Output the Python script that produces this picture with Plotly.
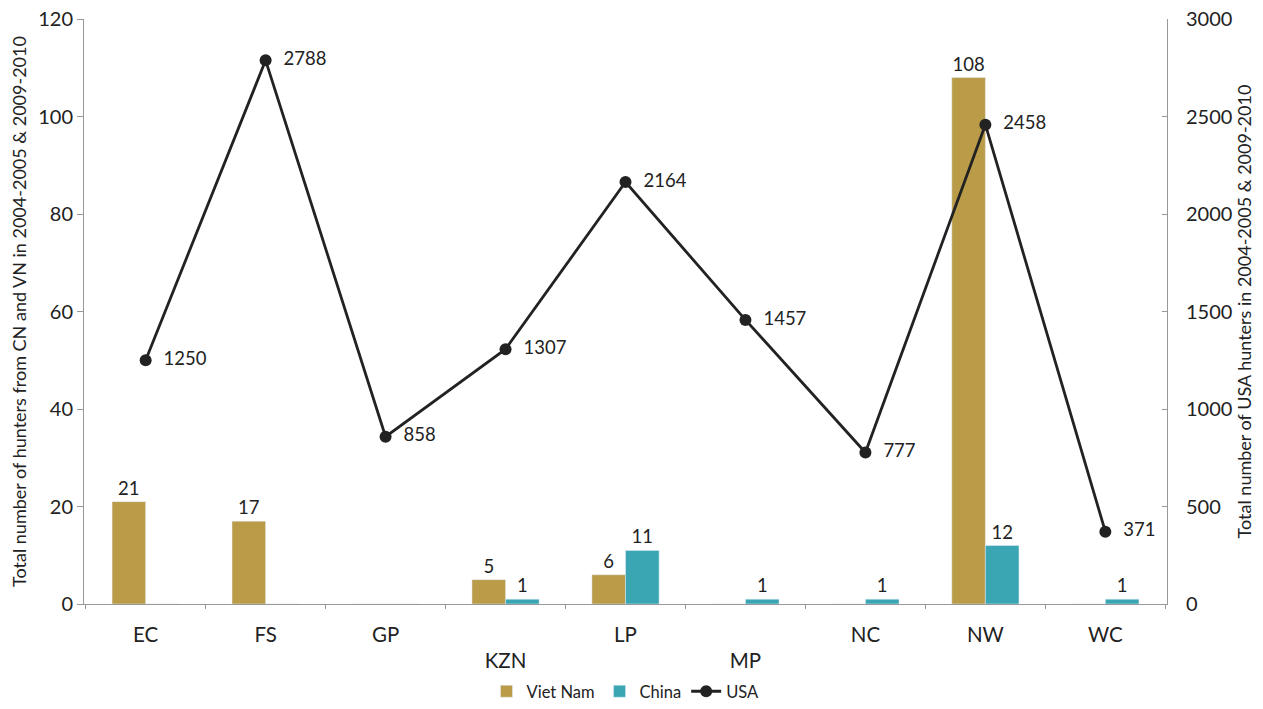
import plotly.graph_objects as go

categories = ["EC", "FS", "GP", "KZN", "LP", "MP", "NC", "NW", "WC"]
tick_labels = ["EC", "FS", "GP", "<br>KZN", "LP", "<br>MP", "NC", "NW", "WC"]
viet_nam = [21, 17, 0, 5, 6, 0, 0, 108, 0]
china = [0, 0, 0, 1, 11, 1, 1, 12, 1]
usa = [1250, 2788, 858, 1307, 2164, 1457, 777, 2458, 371]

FONT = "Lato, 'Open Sans', sans-serif"
TXT = "#222222"
AX = "#999999"

fig = go.Figure()
fig.add_trace(go.Bar(
    x=categories, y=viet_nam, name="Viet Nam",
    marker=dict(color="#b99b48"),
    text=[str(v) if v else "" for v in viet_nam],
    textposition="outside", textfont=dict(size=18.5, color=TXT, family=FONT),
    cliponaxis=False,
))
fig.add_trace(go.Bar(
    x=categories, y=china, name="China",
    marker=dict(color="#3aa6b4"),
    text=[str(v) if v else "" for v in china],
    textposition="outside", textfont=dict(size=18.5, color=TXT, family=FONT),
    cliponaxis=False,
))
fig.add_trace(go.Scatter(
    x=categories, y=usa, name="USA", yaxis="y2",
    mode="lines+markers+text",
    line=dict(color="#222222", width=2.8),
    marker=dict(color="#222222", size=12),
    text=[f"  {v}" for v in usa],
    textposition="middle right",
    textfont=dict(size=18.5, color=TXT, family=FONT),
    cliponaxis=False,
))

fig.update_layout(
    width=1263, height=709,
    paper_bgcolor="white", plot_bgcolor="white",
    font=dict(family=FONT, size=17, color=TXT),
    margin=dict(l=84, r=96, t=19, b=105, autoexpand=False),
    barmode="group", bargap=0.44, bargroupgap=0,
    showlegend=True,
    legend=dict(orientation="h", x=0.5, xanchor="center",
                yref="container", y=0, yanchor="bottom",
                font=dict(size=16.5, family=FONT, color=TXT), traceorder="normal",
                itemwidth=30, tracegroupgap=0),
    xaxis=dict(
        tickmode="array", tickvals=categories, ticktext=tick_labels,
        showline=True, linecolor=AX, linewidth=1,
        ticks="outside", ticklen=4, tickcolor=AX, tickson="boundaries",
        ticklabelstandoff=12, automargin=False,
        showgrid=False, tickfont=dict(size=20.5, family=FONT, color=TXT),
    ),
    yaxis=dict(
        range=[0, 120], tickmode="array", tickvals=[0, 20, 40, 60, 80, 100, 120],
        showgrid=False, zeroline=False, ticklabeloverflow="allow",
        showline=True, linecolor=AX, linewidth=1,
        ticks="outside", ticklen=6, tickcolor=AX, automargin=False,
        tickfont=dict(size=20, family=FONT, color=TXT),
        title=dict(text="Total number of hunters from CN and VN in 2004-2005 & 2009-2010",
                   font=dict(size=18, family=FONT, color=TXT), standoff=6),
    ),
    yaxis2=dict(
        range=[0, 3000], tickmode="array", tickvals=[0, 500, 1000, 1500, 2000, 2500, 3000],
        overlaying="y", side="right", ticklabeloverflow="allow",
        showgrid=False, zeroline=False,
        showline=True, linecolor=AX, linewidth=1,
        ticks="inside", ticklen=5, tickcolor=AX, automargin=False,
        ticklabelstandoff=14,
        tickfont=dict(size=20, family=FONT, color=TXT),
        title=dict(text="Total number of USA hunters in 2004-2005 & 2009-2010",
                   font=dict(size=18, family=FONT, color=TXT), standoff=6),
    ),
)

# remove the default 8px page margin so the 1263x709 figure fills the window exactly
fig.write_html(
    "out.html",
    config={"displayModeBar": False},
    post_script="document.body.style.margin='0';document.documentElement.style.overflow='hidden';",
)
